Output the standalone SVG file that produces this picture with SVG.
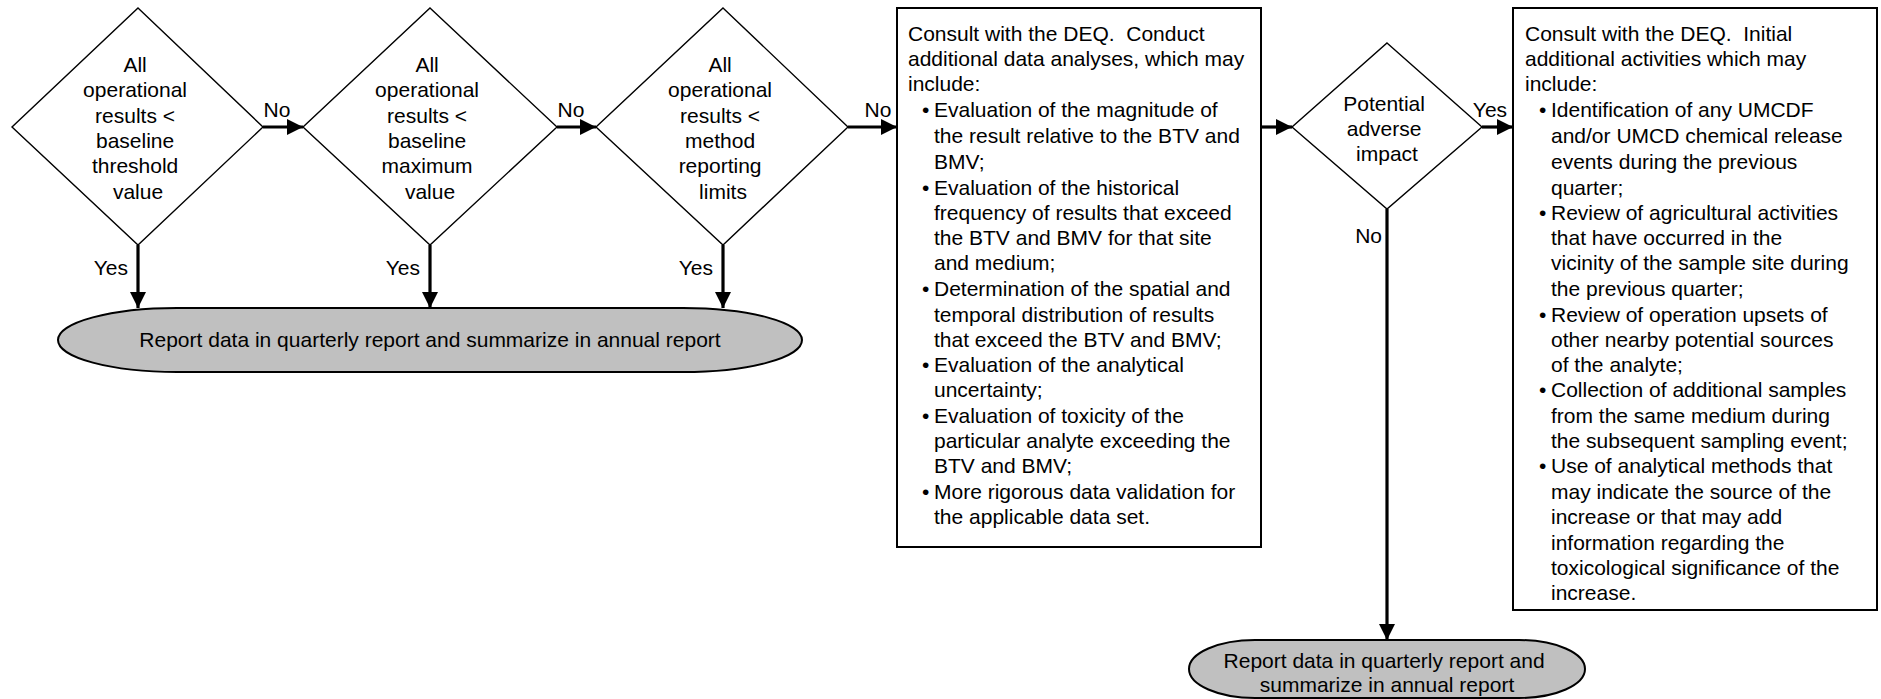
<svg xmlns="http://www.w3.org/2000/svg" width="1881" height="699" viewBox="0 0 1881 699">
  <style>
    text { font-family: "Liberation Sans", Arial, sans-serif; font-size: 21px; fill: #000; }
    .mid { text-anchor: middle; }
    .end { text-anchor: end; }
    .pre { white-space: pre; }
    .shape { fill: #fff; stroke: #000; stroke-width: 1.4; }
    .box { fill: #fff; stroke: #000; stroke-width: 2; }
    .term { fill: #c0c0c0; stroke: #000; stroke-width: 2; }
    .flow { fill: none; stroke: #000; stroke-width: 3.2; marker-end: url(#arrow); }
  </style>
  <defs>
    <marker id="arrow" viewBox="0 0 16 16" refX="16" refY="8" markerWidth="16" markerHeight="16" markerUnits="userSpaceOnUse" orient="auto">
      <path d="M0,0 L16,8 L0,16 Z" fill="#000"/>
    </marker>
  </defs>

  <!-- connectors -->
  <g id="connectors">
    <line class="flow" x1="263" y1="127" x2="303" y2="127"/>
    <line class="flow" x1="557" y1="127" x2="596" y2="127"/>
    <line class="flow" x1="848" y1="127" x2="897" y2="127"/>
    <line class="flow" x1="1261" y1="127" x2="1292" y2="127"/>
    <line class="flow" x1="1482" y1="127" x2="1513" y2="127"/>
    <line class="flow" x1="138" y1="245" x2="138" y2="308"/>
    <line class="flow" x1="430" y1="245" x2="430" y2="308"/>
    <line class="flow" x1="723" y1="245" x2="723" y2="308"/>
    <line class="flow" x1="1387" y1="209" x2="1387" y2="640"/>
    <text class="mid" x="277" y="117">No</text>
    <text class="mid" x="571" y="117">No</text>
    <text class="mid" x="878" y="117">No</text>
    <text class="mid" x="1490" y="117">Yes</text>
    <text class="end" x="128" y="275">Yes</text>
    <text class="end" x="420" y="275">Yes</text>
    <text class="end" x="713" y="275">Yes</text>
    <text class="end" x="1382" y="243">No</text>
  </g>

  <!-- decision: baseline threshold value -->
  <g id="d-btv">
    <polygon class="shape" points="138,8 263,127 138,245 12,127"/>
    <text class="mid">
      <tspan x="138" y="72">All</tspan>
      <tspan x="138" y="97">operational</tspan>
      <tspan x="138" y="123">results &lt;</tspan>
      <tspan x="138" y="148">baseline</tspan>
      <tspan x="138" y="173">threshold</tspan>
      <tspan x="138" y="199">value</tspan>
    </text>
  </g>

  <!-- decision: baseline maximum value -->
  <g id="d-bmv">
    <polygon class="shape" points="430,8 557,127 430,245 303,127"/>
    <text class="mid">
      <tspan x="430" y="72">All</tspan>
      <tspan x="430" y="97">operational</tspan>
      <tspan x="430" y="123">results &lt;</tspan>
      <tspan x="430" y="148">baseline</tspan>
      <tspan x="430" y="173">maximum</tspan>
      <tspan x="430" y="199">value</tspan>
    </text>
  </g>

  <!-- decision: method reporting limits -->
  <g id="d-mrl">
    <polygon class="shape" points="723,8 848,127 723,245 596,127"/>
    <text class="mid">
      <tspan x="723" y="72">All</tspan>
      <tspan x="723" y="97">operational</tspan>
      <tspan x="723" y="123">results &lt;</tspan>
      <tspan x="723" y="148">method</tspan>
      <tspan x="723" y="173">reporting</tspan>
      <tspan x="723" y="199">limits</tspan>
    </text>
  </g>

  <!-- terminator: report (left) -->
  <g id="report-1">
    <rect class="term" x="58" y="308" width="744" height="64" rx="119" ry="32"/>
    <text class="mid" x="430" y="347">Report data in quarterly report and summarize in annual report</text>
  </g>

  <!-- process: additional data analyses -->
  <g id="analyses">
    <rect class="box" x="897" y="8" width="364" height="539"/>
    <text>
      <tspan class="pre" x="908" y="40.5">Consult with the DEQ.  Conduct</tspan>
      <tspan x="908" y="65.5">additional data analyses, which may</tspan>
      <tspan x="908" y="90.5">include:</tspan>
      <tspan x="922" y="116.5">•</tspan><tspan x="934" y="116.5">Evaluation of the magnitude of</tspan>
      <tspan x="934" y="142.5">the result relative to the BTV and</tspan>
      <tspan x="934" y="168.5">BMV;</tspan>
      <tspan x="922" y="194.5">•</tspan><tspan x="934" y="194.5">Evaluation of the historical</tspan>
      <tspan x="934" y="219.5">frequency of results that exceed</tspan>
      <tspan x="934" y="244.5">the BTV and BMV for that site</tspan>
      <tspan x="934" y="269.5">and medium;</tspan>
      <tspan x="922" y="295.5">•</tspan><tspan x="934" y="295.5">Determination of the spatial and</tspan>
      <tspan x="934" y="321.5">temporal distribution of results</tspan>
      <tspan x="934" y="346.5">that exceed the BTV and BMV;</tspan>
      <tspan x="922" y="371.5">•</tspan><tspan x="934" y="371.5">Evaluation of the analytical</tspan>
      <tspan x="934" y="396.5">uncertainty;</tspan>
      <tspan x="922" y="422.5">•</tspan><tspan x="934" y="422.5">Evaluation of toxicity of the</tspan>
      <tspan x="934" y="447.5">particular analyte exceeding the</tspan>
      <tspan x="934" y="472.5">BTV and BMV;</tspan>
      <tspan x="922" y="498.5">•</tspan><tspan x="934" y="498.5">More rigorous data validation for</tspan>
      <tspan x="934" y="523.5">the applicable data set.</tspan>
    </text>
  </g>

  <!-- decision: potential adverse impact -->
  <g id="d-impact">
    <polygon class="shape" points="1387,43 1482,127 1387,209 1292,127"/>
    <text class="mid">
      <tspan x="1387" y="111">Potential</tspan>
      <tspan x="1387" y="136">adverse</tspan>
      <tspan x="1387" y="161">impact</tspan>
    </text>
  </g>

  <!-- process: initial additional activities -->
  <g id="activities">
    <rect class="box" x="1513" y="8" width="364" height="602"/>
    <text>
      <tspan class="pre" x="1525" y="40.5">Consult with the DEQ.  Initial</tspan>
      <tspan x="1525" y="65.5">additional activities which may</tspan>
      <tspan x="1525" y="90.5">include:</tspan>
      <tspan x="1539" y="116.5">•</tspan><tspan x="1551" y="116.5">Identification of any UMCDF</tspan>
      <tspan x="1551" y="142.5">and/or UMCD chemical release</tspan>
      <tspan x="1551" y="168.5">events during the previous</tspan>
      <tspan x="1551" y="194.5">quarter;</tspan>
      <tspan x="1539" y="219.5">•</tspan><tspan x="1551" y="219.5">Review of agricultural activities</tspan>
      <tspan x="1551" y="244.5">that have occurred in the</tspan>
      <tspan x="1551" y="269.5">vicinity of the sample site during</tspan>
      <tspan x="1551" y="295.5">the previous quarter;</tspan>
      <tspan x="1539" y="321.5">•</tspan><tspan x="1551" y="321.5">Review of operation upsets of</tspan>
      <tspan x="1551" y="346.5">other nearby potential sources</tspan>
      <tspan x="1551" y="371.5">of the analyte;</tspan>
      <tspan x="1539" y="396.5">•</tspan><tspan x="1551" y="396.5">Collection of additional samples</tspan>
      <tspan x="1551" y="422.5">from the same medium during</tspan>
      <tspan x="1551" y="447.5">the subsequent sampling event;</tspan>
      <tspan x="1539" y="472.5">•</tspan><tspan x="1551" y="472.5">Use of analytical methods that</tspan>
      <tspan x="1551" y="498.5">may indicate the source of the</tspan>
      <tspan x="1551" y="523.5">increase or that may add</tspan>
      <tspan x="1551" y="549.5">information regarding the</tspan>
      <tspan x="1551" y="574.5">toxicological significance of the</tspan>
      <tspan x="1551" y="599.5">increase.</tspan>
    </text>
  </g>

  <!-- terminator: report (right) -->
  <g id="report-2">
    <rect class="term" x="1189" y="640" width="396" height="58" rx="66" ry="29"/>
    <text class="mid">
      <tspan x="1387" y="668">Report data in quarterly report and</tspan>
      <tspan x="1387" y="692">summarize in annual report</tspan>
    </text>
  </g>
</svg>
